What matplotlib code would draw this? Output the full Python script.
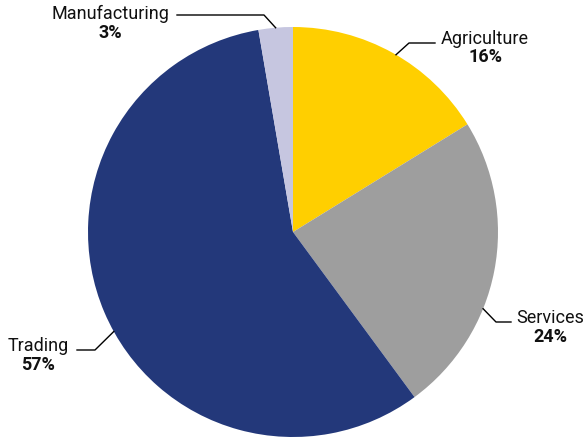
import matplotlib.pyplot as plt
import numpy as np

plt.rcParams['font.family'] = ['Roboto', 'DejaVu Sans']

sectors = ["Agriculture", "Services", "Trading", "Manufacturing"]
shares = [16.2, 23.7, 57.4, 2.7]
pct_labels = ["16%", "24%", "57%", "3%"]
colors = ["#FFCF00", "#9E9E9E", "#23387A", "#C6C6E0"]

W, H = 586, 437
CX, CY, R = 293, 437 - 232, 205

# per-label layout: angle offset of the anchor, elbow point, line end, text centre (pixels, y down)
LAYOUT = {
    "Agriculture":   dict(off=-1, elbow=(409, 43), end=(435, 43), text=(485, 48)),
    "Services":      dict(off=-11, elbow=(496, 322), end=(511, 322), text=(550, 327)),
    "Trading":       dict(off=6, elbow=(95, 350), end=(77, 350), text=(38, 355)),
    "Manufacturing": dict(off=0, elbow=(264, 15), end=(177, 15), text=(110, 23)),
}


def main():
    fig = plt.figure(figsize=(W / 100, H / 100), dpi=100)
    ax = fig.add_axes([0, 0, 1, 1])

    wedges, _ = ax.pie(shares, colors=colors, startangle=90, counterclock=False,
                       center=(CX, CY), radius=R, frame=True,
                       wedgeprops=dict(linewidth=0))
    ax.set_xlim(0, W)
    ax.set_ylim(0, H)
    ax.set_aspect('equal')
    ax.axis('off')

    for w, name, pct in zip(wedges, sectors, pct_labels):
        lay = LAYOUT[name]
        ang = np.deg2rad((w.theta1 + w.theta2) / 2 + lay['off'])
        x0 = CX + R * np.cos(ang)
        y0 = CY + R * np.sin(ang)
        ex, ey = lay['elbow']
        lx, ly = lay['end']
        ax.plot([x0, ex, lx], [y0, H - ey, H - ly], color='black', lw=1)
        tx, ty = lay['text']
        ax.text(tx, H - ty + 9, name, ha='center', va='center', fontsize=13, color='#111111')
        ax.text(tx, H - ty - 9.5, pct, ha='center', va='center', fontsize=13,
                fontweight='bold', color='#111111')

    fig.savefig("out.png", dpi=100)


main()
